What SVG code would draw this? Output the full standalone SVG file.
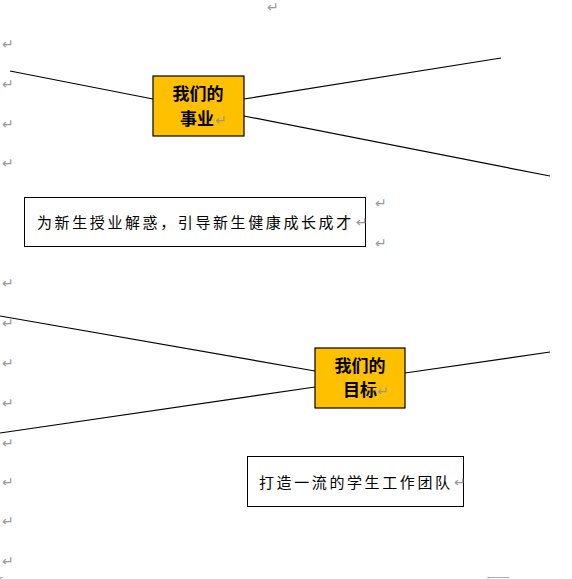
<svg xmlns="http://www.w3.org/2000/svg" width="572" height="579" viewBox="0 0 572 579">
<style>
.bg{fill:#ffffff}
.ln{stroke:#000;stroke-width:1.2;fill:none}
.hub{fill:#FFC000;stroke:#000;stroke-width:1.2}
.box{fill:#fff;stroke:#000;stroke-width:1}
.ht{font-family:"Liberation Serif","Noto Sans CJK SC",serif;font-weight:bold;font-size:17px;fill:#000}
.bt{font-family:"Liberation Sans","Noto Sans CJK SC",sans-serif;font-size:15px;fill:#000;letter-spacing:2.6px}
.pm{font-family:"DejaVu Sans",sans-serif;font-size:14px;fill:#999}
.cm{stroke:#aaa;stroke-width:1;fill:none}
</style>
<rect class="bg" x="0" y="0" width="572" height="579"/>
<g id="connectors">
<line class="ln" x1="10" y1="71" x2="153" y2="99"/>
<line class="ln" x1="244" y1="99" x2="501" y2="58"/>
<line class="ln" x1="244" y1="116" x2="550" y2="176"/>
<line class="ln" x1="0" y1="316" x2="315" y2="371"/>
<line class="ln" x1="0" y1="433" x2="315" y2="387"/>
<line class="ln" x1="405" y1="373" x2="550" y2="352"/>
</g>
<g id="marks">
<text class="pm" x="267" y="12">↵</text>
<text class="pm" x="2" y="49">↵</text>
<text class="pm" x="2" y="89">↵</text>
<text class="pm" x="2" y="129">↵</text>
<text class="pm" x="2" y="168">↵</text>
<text class="pm" x="375" y="208">↵</text>
<text class="pm" x="375" y="248">↵</text>
<text class="pm" x="2" y="288">↵</text>
<text class="pm" x="2" y="328">↵</text>
<text class="pm" x="2" y="368">↵</text>
<text class="pm" x="2" y="408">↵</text>
<text class="pm" x="2" y="448">↵</text>
<text class="pm" x="2" y="487">↵</text>
<text class="pm" x="2" y="526">↵</text>
<text class="pm" x="2" y="566">↵</text>
<path class="cm" d="M0.5 579 V577.5 H3"/>
<path class="cm" d="M488 579 V577.5 H509"/>
</g>
<g id="hub1">
<rect class="hub" x="153" y="76" width="91" height="60"/>
<text class="ht" x="198" y="100" text-anchor="middle">我们的</text>
<text class="ht" x="180" y="125">事业</text>
<text class="pm" x="215" y="125">↵</text>
</g>
<g id="text1">
<rect class="box" x="24.5" y="197.5" width="341" height="49"/>
<text class="bt" x="37" y="228">为新生授业解惑，引导新生健康成长成才</text>
<text class="pm" x="356" y="227">↵</text>
</g>
<g id="hub2">
<rect class="hub" x="315" y="348" width="90" height="60"/>
<text class="ht" x="360" y="372" text-anchor="middle">我们的</text>
<text class="ht" x="343" y="396">目标</text>
<text class="pm" x="377" y="396">↵</text>
</g>
<g id="text2">
<rect class="box" x="247.5" y="456.5" width="216" height="50"/>
<text class="bt" x="259" y="488">打造一流的学生工作团队</text>
<text class="pm" x="454" y="487">↵</text>
</g>
</svg>
